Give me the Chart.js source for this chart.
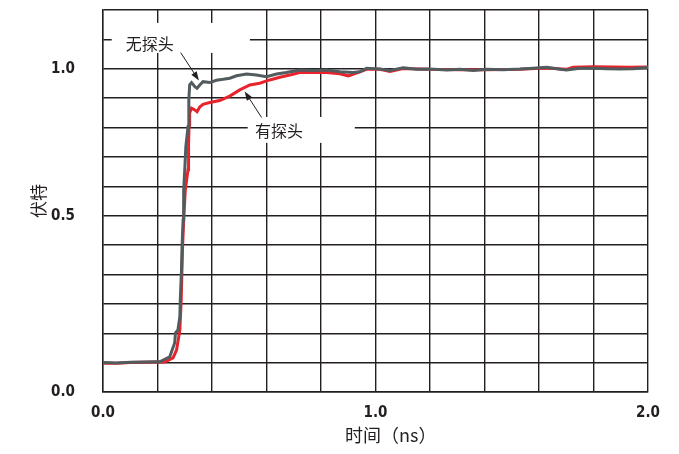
<!DOCTYPE html>
<html>
<head>
<meta charset="utf-8">
<script src="https://cdn.jsdelivr.net/npm/chart.js@4.4.1/dist/chart.umd.min.js"></script>
<style>
  html, body { margin: 0; padding: 0; background: #ffffff; }
  #wrap { width: 679px; height: 454px; position: relative; }
</style>
</head>
<body>
<div id="wrap"><canvas id="c"></canvas></div>
<script>
// ---- data (time in ns, voltage in V) ----
const noProbeTime = [0.000, 0.050, 0.100, 0.150, 0.200, 0.208, 0.245, 0.263, 0.266, 0.275, 0.282, 0.284, 0.288, 0.290, 0.294, 0.296, 0.300, 0.304, 0.312, 0.315, 0.318, 0.325, 0.337, 0.345, 0.355, 0.367, 0.392, 0.416, 0.441, 0.465, 0.490, 0.527, 0.563, 0.600, 0.637, 0.673, 0.722, 0.771, 0.820, 0.869, 0.918, 0.943, 0.967, 1.016, 1.053, 1.102, 1.151, 1.200, 1.261, 1.310, 1.359, 1.408, 1.469, 1.530, 1.579, 1.628, 1.677, 1.701, 1.750, 1.799, 1.848, 1.897, 1.946, 2.000];
const noProbeVolt = [0.000, -0.001, 0.001, 0.002, 0.003, 0.003, 0.020, 0.067, 0.101, 0.111, 0.156, 0.224, 0.315, 0.394, 0.485, 0.587, 0.656, 0.735, 0.803, 0.894, 0.945, 0.953, 0.939, 0.934, 0.945, 0.956, 0.953, 0.961, 0.964, 0.968, 0.976, 0.982, 0.979, 0.973, 0.982, 0.987, 0.996, 0.994, 0.996, 0.990, 0.987, 0.990, 1.002, 0.999, 0.994, 1.003, 0.998, 0.999, 0.996, 0.998, 0.994, 0.998, 0.997, 0.999, 1.002, 1.005, 0.998, 0.996, 1.002, 1.002, 1.000, 0.999, 1.000, 1.004];

const withProbeTime = [0.000, 0.050, 0.100, 0.150, 0.200, 0.227, 0.257, 0.270, 0.282, 0.287, 0.292, 0.296, 0.302, 0.312, 0.314, 0.316, 0.318, 0.325, 0.337, 0.345, 0.355, 0.367, 0.392, 0.428, 0.465, 0.502, 0.539, 0.575, 0.612, 0.649, 0.686, 0.722, 0.771, 0.820, 0.869, 0.900, 0.930, 0.967, 1.016, 1.053, 1.102, 1.200, 1.310, 1.408, 1.530, 1.628, 1.701, 1.725, 1.799, 1.872, 1.934, 2.000];
const withProbeVolt = [-0.002, -0.002, 0.000, 0.001, 0.002, 0.002, 0.016, 0.043, 0.111, 0.213, 0.394, 0.485, 0.587, 0.656, 0.747, 0.809, 0.850, 0.866, 0.860, 0.854, 0.870, 0.879, 0.885, 0.892, 0.907, 0.928, 0.945, 0.951, 0.962, 0.971, 0.979, 0.987, 0.987, 0.987, 0.983, 0.976, 0.985, 0.998, 0.998, 0.991, 1.001, 0.998, 0.997, 0.997, 0.998, 1.003, 0.998, 1.005, 1.007, 1.006, 1.005, 1.006];

const seriesNames = ['无探头', '有探头'];

// tick labels (value -> text); other grid lines are unlabeled
const yTickValues = [-0.1, 0.5, 1.0];
const yTickTexts  = ['0.0', '0.5', '1.0'];
const xTickValues = [0.0, 1.0, 2.0];
const xTickTexts  = ['0.0', '1.0', '2.0'];

const xTitle = '时间（ns）';
const yTitle = '伏特';

// ---- styles ----
const INK = '#231f20';
const GRAY = '#525b5e';
const RED = '#e8232b';
const TICK_FONT = { family: "'Liberation Sans Narrow', 'DejaVu Sans Condensed', 'Liberation Sans', sans-serif", size: 15, weight: 'bold' };
const CJK = "'Noto Sans CJK SC', 'Noto Sans', sans-serif";

// annotation layout in data units
const annotations = [
  { text: seriesNames[0], tx: 0.172, ty: 1.084, box: [0.032, 0.539, 1.156, 1.054], from: [0.285, 1.055], to: [0.352, 0.960] },
  { text: seriesNames[1], tx: 0.646, ty: 0.788, box: [0.531, 0.924, 0.836, 0.748], from: [0.582, 0.834], to: [0.520, 0.923] }
];

function toPoints(xs, ys) { return xs.map((x, i) => ({ x: x, y: ys[i] })); }
function lookup(vals, texts, v) {
  const r = Math.round(v * 10) / 10;
  for (let i = 0; i < vals.length; i++) if (Math.abs(vals[i] - r) < 1e-6) return texts[i];
  return '';
}

const annotationPlugin = {
  id: 'annot',
  beforeDatasetsDraw(chart) {
    const ctx = chart.ctx, xs = chart.scales.x, ys = chart.scales.y;
    ctx.save();
    ctx.fillStyle = '#ffffff';
    annotations.forEach(a => {
      const x0 = xs.getPixelForValue(a.box[0]), x1 = xs.getPixelForValue(a.box[1]);
      const y0 = ys.getPixelForValue(a.box[2]), y1 = ys.getPixelForValue(a.box[3]);
      ctx.fillRect(x0, y0, x1 - x0, y1 - y0);
    });
    ctx.fillStyle = INK;
    ctx.font = '16px ' + CJK;
    ctx.textAlign = 'center';
    ctx.textBaseline = 'middle';
    annotations.forEach(a => {
      ctx.fillText(a.text, xs.getPixelForValue(a.tx), ys.getPixelForValue(a.ty));
    });
    ctx.restore();
  },
  afterDatasetsDraw(chart) {
    const ctx = chart.ctx, xs = chart.scales.x, ys = chart.scales.y;
    ctx.save();
    ctx.strokeStyle = INK;
    ctx.fillStyle = INK;
    ctx.lineWidth = 1;
    annotations.forEach(a => {
      const fx = xs.getPixelForValue(a.from[0]), fy = ys.getPixelForValue(a.from[1]);
      const tx = xs.getPixelForValue(a.to[0]), ty = ys.getPixelForValue(a.to[1]);
      const ang = Math.atan2(ty - fy, tx - fx);
      const L = 9, W = 3.2;
      const bx = tx - L * Math.cos(ang), by = ty - L * Math.sin(ang);
      ctx.beginPath();
      ctx.moveTo(fx, fy);
      ctx.lineTo(bx, by);
      ctx.stroke();
      ctx.beginPath();
      ctx.moveTo(tx, ty);
      ctx.lineTo(bx + W * Math.sin(ang), by - W * Math.cos(ang));
      ctx.lineTo(bx - W * Math.sin(ang), by + W * Math.cos(ang));
      ctx.closePath();
      ctx.fill();
    });
    // x axis title
    ctx.font = '18px ' + CJK;
    ctx.textAlign = 'left';
    ctx.textBaseline = 'middle';
    ctx.fillText(xTitle, xs.getPixelForValue(0.888), xs.bottom - 19);
    ctx.restore();
  }
};

new Chart(document.getElementById('c'), {
  type: 'line',
  data: {
    datasets: [
      { label: seriesNames[0], data: toPoints(noProbeTime, noProbeVolt), borderColor: GRAY, borderWidth: 3, pointRadius: 0, tension: 0, fill: false },
      { label: seriesNames[1], data: toPoints(withProbeTime, withProbeVolt), borderColor: RED, borderWidth: 3, pointRadius: 0, tension: 0, fill: false }
    ]
  },
  options: {
    responsive: true,
    maintainAspectRatio: false,
    animation: false,
    devicePixelRatio: 1,
    layout: { padding: { left: 0, right: 31, top: 10, bottom: 0 } },
    plugins: { legend: { display: false }, tooltip: { enabled: false } },
    scales: {
      x: {
        type: 'linear',
        min: 0, max: 2,
        afterFit: s => { s.height = 62; s.paddingLeft = 0; s.paddingRight = 0; },
        ticks: {
          stepSize: 0.2, autoSkip: false, maxRotation: 0, maxTicksLimit: 30,
          padding: 12, color: INK, font: TICK_FONT,
          callback: v => lookup(xTickValues, xTickTexts, v)
        },
        grid: { color: INK, lineWidth: 1.4, drawTicks: false },
        border: { display: true, color: INK, width: 1.4 },
        title: { display: false }
      },
      y: {
        type: 'linear',
        min: -0.1, max: 1.2,
        afterFit: s => { s.width = 103; s.paddingTop = 0; s.paddingBottom = 0; },
        ticks: {
          stepSize: 0.1, autoSkip: false, maxTicksLimit: 30,
          padding: 28, color: INK, font: TICK_FONT,
          callback: v => lookup(yTickValues, yTickTexts, v)
        },
        grid: { color: INK, lineWidth: 1.4, drawTicks: false },
        border: { display: true, color: INK, width: 1.4 },
        title: { display: true, text: yTitle, color: INK, font: { family: CJK, size: 17 }, padding: { top: 28, bottom: 0 } }
      }
    }
  },
  plugins: [annotationPlugin]
});
</script>
</body>
</html>
